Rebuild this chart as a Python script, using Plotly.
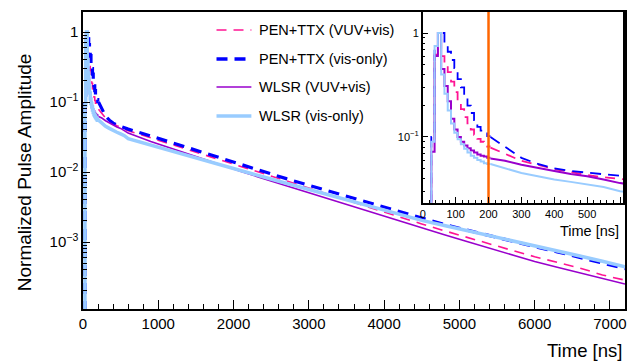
import plotly.graph_objects as go

# ---------------- data ----------------
# early part: 10-ns bins, left bin edges [ns]
early_t = [0, 26, 36, 46, 56, 66, 76, 86, 96, 106, 116, 126, 136, 146, 156, 166, 176, 186, 196]
pen_vuv_early = [1e-5, 0.085, 0.62, 1.0, 0.60, 0.50, 0.42, 0.34, 0.27, 0.22, 0.185, 0.155, 0.135, 0.118, 0.105, 0.096, 0.090, 0.085, 0.081]
pen_vis_early = [1e-5, 0.10, 0.75, 1.0, 1.0, 0.80, 0.66, 0.55, 0.46, 0.36, 0.30, 0.25, 0.20, 0.17, 0.145, 0.125, 0.115, 0.108, 0.102]
wlsr_vuv_early = [1e-5, 0.072, 0.60, 1.0, 0.45, 0.31, 0.22, 0.15, 0.118, 0.100, 0.090, 0.083, 0.078, 0.074, 0.071, 0.068, 0.066, 0.065, 0.063]
wlsr_vis_early = [1e-5, 0.09, 0.75, 1.0, 0.40, 0.26, 0.18, 0.135, 0.110, 0.095, 0.085, 0.077, 0.071, 0.066, 0.063, 0.060, 0.058, 0.056, 0.055]

# middle part [ns]
mid_t = [206, 250, 300, 350, 400, 450, 500, 550, 600]
pen_vuv_mid = [0.079, 0.069, 0.059, 0.054, 0.049, 0.046, 0.043, 0.041, 0.039]
pen_vis_mid = [0.100, 0.081, 0.063, 0.055, 0.050, 0.047, 0.045, 0.043, 0.041]
wlsr_vuv_mid = [0.062, 0.059, 0.054, 0.050, 0.047, 0.044, 0.042, 0.039, 0.036]
wlsr_vis_mid = [0.055, 0.050, 0.045, 0.042, 0.039, 0.037, 0.035, 0.033, 0.030]

# slow tail [ns]
tail_t = [900, 1200, 1500, 1800, 2100, 2400, 2700, 3000, 3300, 3600, 3900,
          4200, 4500, 4800, 5100, 5400, 5700, 6000, 6300, 6600, 6900, 7200]
pen_vuv_tail = [0.0308, 0.0243, 0.0191, 0.0150, 0.0118, 0.00933, 0.00741, 0.00582, 0.00460, 0.00363, 0.00288,
                0.00229, 0.00181, 0.00145, 0.00116, 0.000933, 0.000759, 0.000617, 0.000507, 0.000425, 0.000338, 0.000285]
pen_vis_tail = [0.0327, 0.0258, 0.0204, 0.0160, 0.0126, 0.0100, 0.00804, 0.00646, 0.00519, 0.00417, 0.00335,
                0.00269, 0.00216, 0.00178, 0.00148, 0.00123, 0.00102, 0.00086, 0.000724, 0.000603, 0.000501, 0.000417]
wlsr_vuv_tail = [0.0272, 0.0212, 0.0166, 0.0130, 0.0102, 0.00804, 0.00637, 0.00505, 0.00400, 0.00316, 0.00251,
                 0.00200, 0.00158, 0.00127, 0.00102, 0.000822, 0.000653, 0.000525, 0.000437, 0.000363, 0.000302, 0.000251]
wlsr_vis_tail = [0.0242, 0.0196, 0.0159, 0.0129, 0.01045, 0.00849, 0.00692, 0.00562, 0.00457, 0.00373, 0.00304,
                 0.00248, 0.00204, 0.00172, 0.00146, 0.00124, 0.00106, 0.00089, 0.00075, 0.00063, 0.00053, 0.000442]

cut_time = 200  # orange marker line in the inset [ns]

labels = ["PEN+TTX (VUV+vis)", "PEN+TTX (vis-only)", "WLSR (VUV+vis)", "WLSR (vis-only)"]

# ---------------- styling ----------------
W, H = 628, 361
L, R, T, B = 83, 627, 12, 309
FONT = "Liberation Sans, Arial, sans-serif"

def px_x(p):
    return (p - L) / (R - L)

def px_y(p):
    return (B - p) / (B - T)

styles = [
    dict(color="#ff1493", main_w=1.6, inset_w=1.8, dash="10px,7px"),
    dict(color="#0000ff", main_w=3.2, inset_w=1.8, dash="11px,7px"),
    dict(color="#9900cc", main_w=1.6, inset_w=2.0, dash="solid"),
    dict(color="#99ccff", main_w=3.5, inset_w=2.0, dash="solid"),
]
series = [
    (pen_vuv_early, pen_vuv_mid, pen_vuv_tail),
    (pen_vis_early, pen_vis_mid, pen_vis_tail),
    (wlsr_vuv_early, wlsr_vuv_mid, wlsr_vuv_tail),
    (wlsr_vis_early, wlsr_vis_mid, wlsr_vis_tail),
]

fig = go.Figure()

for (early, mid, tail), st, name in zip(series, styles, labels):
    for xa, ya, w in (("x", "y", st["main_w"]), ("x2", "y2", st["inset_w"])):
        line_step = dict(color=st["color"], width=w, dash=st["dash"], shape="hv")
        fig.add_trace(go.Scatter(x=early_t + [mid_t[0]], y=early + [early[-1]], mode="lines",
                                 line=line_step, xaxis=xa, yaxis=ya, showlegend=False, name=name))
        line_lin = dict(color=st["color"], width=w, dash=st["dash"])
        fig.add_trace(go.Scatter(x=mid_t + tail_t, y=mid + tail, mode="lines",
                                 line=line_lin, xaxis=xa, yaxis=ya, showlegend=False, name=name))

fig.add_trace(go.Scatter(x=[cut_time, cut_time], y=[0.01, 3], mode="lines",
                         line=dict(color="#ff6600", width=2.5), xaxis="x2", yaxis="y2",
                         showlegend=False))

decades = [-4, -3, -2, -1, 0]
minor_vals = [k * 10.0 ** e for e in decades for k in range(2, 10)]

axis_common = dict(showline=True, linecolor="black", linewidth=1.5, mirror=True,
                   ticks="inside", tickcolor="black", showgrid=False, zeroline=False)

fig.update_layout(
    width=W, height=H,
    margin=dict(l=L, r=W - R, t=T, b=H - B),
    paper_bgcolor="white", plot_bgcolor="white",
    font=dict(family=FONT, color="black"),
    xaxis=dict(domain=[0, 1], range=[0, 7200], tickmode="linear", tick0=0, dtick=1000,
               ticklen=9, tickwidth=1.2, tickfont=dict(size=15),
               minor=dict(dtick=200, tick0=0, ticks="inside", ticklen=5, tickcolor="black"),
               **axis_common),
    yaxis=dict(domain=[0, 1], type="log", range=[-3.957, 0.286],
               tickmode="array", tickvals=[1e-3, 1e-2, 1e-1, 1],
               ticktext=["10<sup>−3</sup>", "10<sup>−2</sup>", "10<sup>−1</sup>", "1"],
               ticklen=7, tickwidth=1.2, tickfont=dict(size=15),
               minor=dict(tickvals=minor_vals, ticks="inside", ticklen=4, tickcolor="black"),
               **axis_common),
    xaxis2=dict(domain=[px_x(424), px_x(625)], anchor="y2", range=[0, 609],
                tickmode="linear", tick0=0, dtick=100, ticklen=6, tickwidth=1,
                tickfont=dict(size=11),
                minor=dict(dtick=20, tick0=0, ticks="inside", ticklen=3, tickcolor="black"),
                **axis_common),
    yaxis2=dict(domain=[px_y(203), 1], anchor="x2", type="log", range=[-1.635, 0.202],
                tickmode="array", tickvals=[0.1, 1], ticktext=["10<sup>−1</sup>", "1"],
                ticklen=6, tickwidth=1, tickfont=dict(size=11),
                minor=dict(tickvals=minor_vals, ticks="inside", ticklen=3, tickcolor="black"),
                **axis_common),
)

annotations = [
    dict(text="Normalized Pulse Amplitude", x=px_x(24), y=px_y(172), xref="paper", yref="paper",
         textangle=-90, showarrow=False, font=dict(size=19), xanchor="center", yanchor="middle"),
    dict(text="Time [ns]", x=px_x(626), y=px_y(350), xref="paper", yref="paper",
         showarrow=False, font=dict(size=18.5), xanchor="right", yanchor="middle"),
    dict(text="Time [ns]", x=px_x(623), y=px_y(231), xref="paper", yref="paper",
         showarrow=False, font=dict(size=14.5), xanchor="right", yanchor="middle"),
]

# manual legend
leg_rows = [30, 59, 87, 116]
leg_w = [1.6, 3.5, 1.6, 3.5]
shapes = []
for row, st, name, lw in zip(leg_rows, styles, labels, leg_w):
    shapes.append(dict(type="line", xref="paper", yref="paper",
                       x0=px_x(217), x1=px_x(252), y0=px_y(row), y1=px_y(row),
                       line=dict(color=st["color"], width=lw, dash=st["dash"])))
    annotations.append(dict(text=name, x=px_x(258), y=px_y(row), xref="paper", yref="paper",
                            showarrow=False, font=dict(size=14.5), xanchor="left", yanchor="middle"))

fig.update_layout(annotations=annotations, shapes=shapes)

fig.write_html("out.html")
